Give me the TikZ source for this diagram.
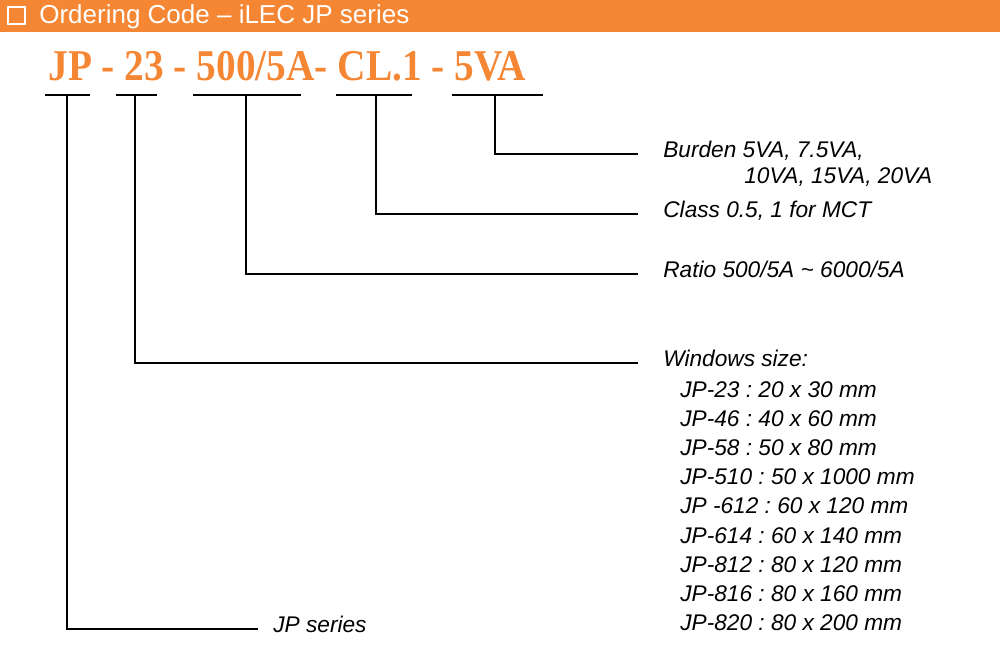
\documentclass[tikz,border=0pt]{standalone}
\usepackage{fontspec}
\setmainfont{Liberation Sans}
\newfontfamily\codefont{Liberation Serif}
\usetikzlibrary{positioning}
\frenchspacing
\definecolor{hdrorange}{RGB}{245,134,52}
\tikzset{
  lead/.style ={draw=black, line width=1.1pt},
  ulbar/.style={draw=black, line width=1.1pt},
  note/.style ={anchor=base west, inner xsep=0.5cm, inner ysep=0pt,
                font=\fontsize{12.9}{15}\selectfont\itshape},
  item/.style ={note, inner xsep=0pt},
}

\begin{document}
\begin{tikzpicture}[x=0.02cm, y=-0.02cm]
\useasboundingbox[fill=white] (0,0) rectangle (1000,650);
% header bar
\fill[hdrorange] (0,0) rectangle (1000,32);
\draw[white, line width=0.04cm] (8,7) rectangle (25,24);
\node[anchor=base west, inner sep=0pt, text=white, font=\fontsize{14.8}{17}\selectfont] (title) at (39,23) {Ordering Code -- iLEC JP series};
% ordering code
\node[anchor=base west, inner sep=0pt, text=hdrorange, font=\codefont\bfseries\fontsize{25}{30}\selectfont] (code) at (48,80) {\scalebox{0.895}[1]{JP - 23 - 500/5A- CL.1 - 5VA}};
\foreach \a/\b/\m/\n in {45/90/67/jp,116/157/135/win,193/301/246/ratio,336/412/376/cls,452/543/495/burd}{
  \draw[ulbar] (\a,95) -- (\b,95);
  \coordinate (u-\n) at (\m,95);
}
% labels
\node[note] (burden) at (638,157) {Burden 5VA, 7.5VA,};
\node[item] (burden2) at (744,183) {10VA, 15VA, 20VA};
\node[note] (class) at (638,217) {Class 0.5, 1 for MCT};
\node[note] (ratio) at (638,277) {Ratio 500/5A \textasciitilde{} 6000/5A};
\node[note] (wsize) at (638,366) {Windows size:};
\foreach \t [count=\i from 0] in {JP-23 : 20 x 30 mm, JP-46 : 40 x 60 mm, JP-58 : 50 x 80 mm,
    JP-510 : 50 x 1000 mm, JP -612 : 60 x 120 mm, JP-614 : 60 x 140 mm,
    JP-812 : 80 x 120 mm, JP-816 : 80 x 160 mm, JP-820 : 80 x 200 mm}
  \node[item] (w\i) at (680,397+29.2*\i) {\t};
\node[note, inner xsep=0.3cm] (series) at (258,632) {JP series};
% leaders
\draw[lead] (u-burd)  |- ([yshift=0.06cm]burden.base west);
\draw[lead] (u-cls)   |- ([yshift=0.06cm]class.base west);
\draw[lead] (u-ratio) |- ([yshift=0.06cm]ratio.base west);
\draw[lead] (u-win)   |- ([yshift=0.06cm]wsize.base west);
\draw[lead] (u-jp)    |- ([yshift=0.06cm]series.base west);
\end{tikzpicture}
\end{document}
